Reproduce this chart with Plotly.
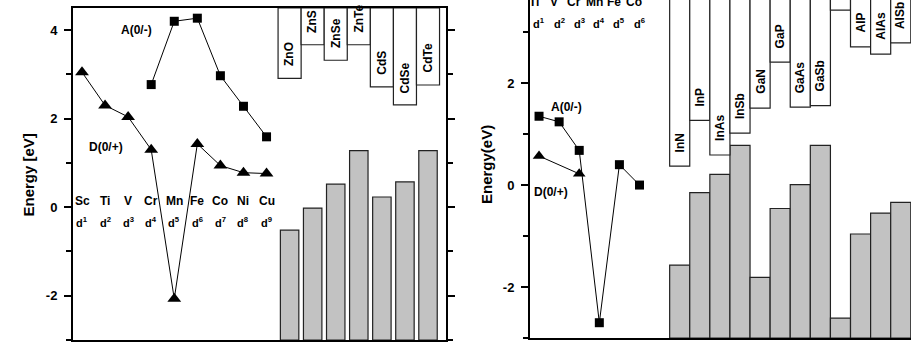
import plotly.graph_objects as go

# ---------------- data ----------------
# Left panel: 3d transition-metal levels in II-VI hosts
tm_left = ["Sc", "Ti", "V", "Cr", "Mn", "Fe", "Co", "Ni", "Cu"]
d_left = ["d<sup>1</sup>", "d<sup>2</sup>", "d<sup>3</sup>", "d<sup>4</sup>", "d<sup>5</sup>",
          "d<sup>6</sup>", "d<sup>7</sup>", "d<sup>8</sup>", "d<sup>9</sup>"]
donor_left = [3.05, 2.30, 2.04, 1.30, -2.07, 1.43, 0.94, 0.78, 0.76]
acceptor_left = [None, None, None, 2.77, 4.20, 4.27, 2.97, 2.28, 1.59]
iivi = ["ZnO", "ZnS", "ZnSe", "ZnTe", "CdS", "CdSe", "CdTe"]
iivi_vbm = [-0.52, -0.02, 0.52, 1.28, 0.23, 0.57, 1.28]
iivi_cbm = [2.91, 3.67, 3.32, 3.67, 2.72, 2.31, 2.76]
left_ticks = [-2, 0, 2, 4]
left_ticktext = ["-2", "0", "2", "4"]

# Right panel: 3d transition-metal levels in III-V hosts
tm_right = ["Ti", "V", "Cr", "Mn", "Fe", "Co"]
d_right = ["d<sup>1</sup>", "d<sup>2</sup>", "d<sup>3</sup>", "d<sup>4</sup>", "d<sup>5</sup>", "d<sup>6</sup>"]
acceptor_right = [1.35, 1.24, 0.68, -2.70, 0.40, 0.00]
donor_right = [0.57, None, 0.22, None, None, None]
iiiv = ["InN", "InP", "InAs", "InSb", "GaN", "GaP", "GaAs", "GaSb", "AlN", "AlP", "AlAs", "AlSb"]
iiiv_vbm = [-1.57, -0.15, 0.21, 0.78, -1.81, -0.46, 0.01, 0.78, -2.61, -0.96, -0.55, -0.34]
iiiv_cbm = [0.37, 1.27, 0.59, 1.02, 1.51, 2.41, 1.53, 1.56, 3.43, 2.71, 2.57, 2.79]
right_ticks = [-2, 0, 2]
right_ticktext = ["-2", "0", "2"]

L_YMIN, L_YMAX = -3.0, 4.5
R_YMIN, R_YMAX = -3.0, 3.63
R_TOP = 5.0

FONT = "Liberation Sans, Arial, sans-serif"
GRAY = "#c2c2c2"

# positions along the shared category axis of each panel
xl_tm = list(range(len(tm_left)))
xl_c = [len(tm_left) + i for i in range(len(iivi))]
xr_tm = list(range(len(tm_right)))
xr_c = [len(tm_right) + 1 + i for i in range(len(iiiv))]

fig = go.Figure()

# ---- left panel bars ----
fig.add_trace(go.Bar(x=xl_c, y=[v - L_YMIN for v in iivi_vbm], base=[L_YMIN] * len(iivi),
                     width=0.8, marker=dict(color=GRAY, line=dict(color="#222", width=1.2)),
                     xaxis="x", yaxis="y", showlegend=False))
fig.add_trace(go.Bar(x=xl_c, y=[L_YMAX - v for v in iivi_cbm], base=iivi_cbm,
                     width=1.0, marker=dict(color="white", line=dict(color="#222", width=1.2)),
                     xaxis="x", yaxis="y", showlegend=False))
# ---- left panel lines ----
fig.add_trace(go.Scatter(x=xl_tm, y=donor_left, mode="lines+markers",
                         line=dict(color="black", width=1),
                         marker=dict(symbol="triangle-up", size=12, color="black"),
                         xaxis="x", yaxis="y", showlegend=False))
fig.add_trace(go.Scatter(x=xl_tm, y=acceptor_left, mode="lines+markers",
                         line=dict(color="black", width=1),
                         marker=dict(symbol="square", size=9, color="black"),
                         xaxis="x", yaxis="y", showlegend=False))

# ---- right panel bars ----
fig.add_trace(go.Bar(x=xr_c, y=[v - R_YMIN for v in iiiv_vbm], base=[R_YMIN] * len(iiiv),
                     width=1.0, marker=dict(color=GRAY, line=dict(color="#222", width=1.2)),
                     xaxis="x2", yaxis="y2", showlegend=False))
fig.add_trace(go.Bar(x=xr_c, y=[R_TOP - v for v in iiiv_cbm], base=iiiv_cbm,
                     width=1.0, marker=dict(color="white", line=dict(color="#222", width=1.2)),
                     xaxis="x2", yaxis="y2", showlegend=False))
fig.add_trace(go.Scatter(x=xr_tm, y=donor_right, mode="lines+markers", connectgaps=True,
                         line=dict(color="black", width=1),
                         marker=dict(symbol="triangle-up", size=11, color="black"),
                         xaxis="x2", yaxis="y2", showlegend=False))
fig.add_trace(go.Scatter(x=xr_tm, y=acceptor_right, mode="lines+markers",
                         line=dict(color="black", width=1),
                         marker=dict(symbol="square", size=9, color="black"),
                         xaxis="x2", yaxis="y2", showlegend=False))

ann = []
bold = dict(family=FONT, size=12, color="black", weight="bold")
# element / d-count labels
for i, (el, d) in enumerate(zip(tm_left, d_left)):
    ann.append(dict(x=xl_tm[i], y=0.15, xref="x", yref="y", text=el, showarrow=False, font=bold))
    ann.append(dict(x=xl_tm[i], y=-0.34, xref="x", yref="y", text=d, showarrow=False,
                    font=dict(family=FONT, size=11, color="black", weight="bold")))
for i, (el, d) in enumerate(zip(tm_right, d_right)):
    ann.append(dict(x=xr_tm[i] - 0.25, y=3.60, xref="x2", yref="y2", text=el, showarrow=False, font=bold))
    ann.append(dict(x=xr_tm[i], y=3.18, xref="x2", yref="y2", text=d, showarrow=False,
                    font=dict(family=FONT, size=11, color="black", weight="bold")))
# compound labels
for xc, name, cbm in zip(xl_c, iivi, iivi_cbm):
    ann.append(dict(x=xc, y=cbm, xref="x", yref="y", text=name, textangle=-90, showarrow=False,
                    yanchor="bottom", yshift=10, font=bold))
for xc, name, cbm in zip(xr_c, iiiv, iiiv_cbm):
    ann.append(dict(x=xc, y=cbm, xref="x2", yref="y2", text=name, textangle=-90, showarrow=False,
                    yanchor="bottom", yshift=12, font=bold))
# series labels
ann += [
    dict(x=2.35, y=4.0, xref="x", yref="y", text="A(0/-)", showarrow=False, font=bold),
    dict(x=1.05, y=1.37, xref="x", yref="y", text="D(0/+)", showarrow=False, font=bold),
    dict(x=1.35, y=1.53, xref="x2", yref="y2", text="A(0/-)", showarrow=False, font=bold),
    dict(x=0.6, y=-0.14, xref="x2", yref="y2", text="D(0/+)", showarrow=False, font=bold),
]
# axis titles
ann += [
    dict(x=17 / 911, y=1 - 175 / 342, xref="paper", yref="paper", text="Energy [eV]", textangle=-90,
         showarrow=False, font=dict(family=FONT, size=15, color="black", weight="bold")),
    dict(x=487 / 911, y=1 - 165 / 342, xref="paper", yref="paper", text="Energy(eV)", textangle=-90,
         showarrow=False, font=dict(family=FONT, size=15, color="black", weight="bold")),
]

tickfont = dict(family=FONT, size=13, color="black", weight="bold")
axis_common = dict(showgrid=False, zeroline=False, automargin=False, linecolor="black", linewidth=2)

fig.update_layout(
    width=911, height=342, margin=dict(l=0, r=0, t=0, b=0),
    paper_bgcolor="white", plot_bgcolor="white", barmode="overlay", showlegend=False,
    xaxis=dict(domain=[73 / 911, 446 / 911], range=[-0.39, 15.78], showline=True, mirror=True,
               showticklabels=False, ticks="", anchor="y", **axis_common),
    yaxis=dict(domain=[2 / 342, 334 / 342], range=[L_YMIN, L_YMAX], showline=True, mirror="ticks",
               ticks="outside", ticklen=7, tickwidth=1.5, tickcolor="black",
               tickmode="array", tickvals=left_ticks, ticktext=left_ticktext,
               minor=dict(dtick=1, tick0=1, ticks="outside", ticklen=5, tickwidth=1.5, tickcolor="black"),
               tickfont=tickfont, ticklabelstandoff=4, anchor="x", **axis_common),
    xaxis2=dict(domain=[530 / 911, 1.0], range=[-0.45, 18.51], showline=True, mirror=False,
                showticklabels=False, ticks="", anchor="y2", **axis_common),
    yaxis2=dict(domain=[4 / 342, 1.0], range=[R_YMIN, R_YMAX], showline=True, mirror=False,
                ticks="outside", ticklen=7, tickwidth=1.5, tickcolor="black",
                tickmode="array", tickvals=right_ticks, ticktext=right_ticktext,
                minor=dict(dtick=1, tick0=1, ticks="outside", ticklen=5, tickwidth=1.5, tickcolor="black"),
                tickfont=tickfont, ticklabelstandoff=4, anchor="x2", **axis_common),
    annotations=ann,
)

fig.write_html("out.html")
